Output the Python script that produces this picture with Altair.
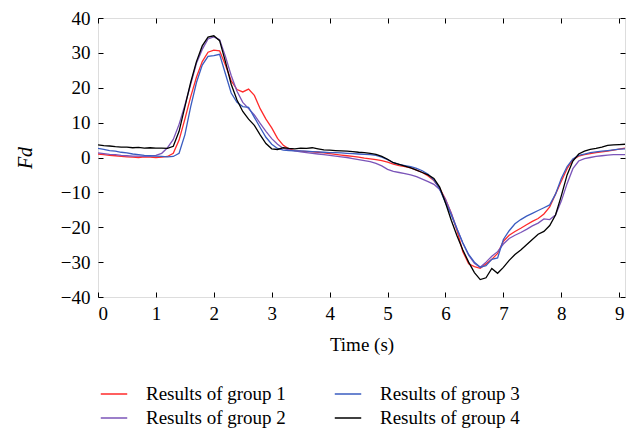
import altair as alt
import pandas as pd

time_s = [0.0, 0.1, 0.2, 0.3, 0.4, 0.5, 0.6, 0.7, 0.8, 0.9,
          1.0, 1.1, 1.2, 1.3, 1.4, 1.5, 1.6, 1.7, 1.8, 1.9,
          2.0, 2.1, 2.2, 2.3, 2.4, 2.5, 2.6, 2.7, 2.8, 2.9,
          3.0, 3.1, 3.2, 3.3, 3.4, 3.5, 3.6, 3.7, 3.8, 3.9,
          4.0, 4.1, 4.2, 4.3, 4.4, 4.5, 4.6, 4.7, 4.8, 4.9,
          5.0, 5.1, 5.2, 5.3, 5.4, 5.5, 5.6, 5.7, 5.8, 5.9,
          6.0, 6.1, 6.2, 6.3, 6.4, 6.5, 6.6, 6.7, 6.8, 6.9,
          7.0, 7.1, 7.2, 7.3, 7.4, 7.5, 7.6, 7.7, 7.8, 7.9,
          8.0, 8.1, 8.2, 8.3, 8.4, 8.5, 8.6, 8.7, 8.8, 8.9,
          9.0, 9.1]

group1 = [1.0, 0.8, 0.6, 0.5, 0.3, 0.2, 0.1, 0.0, 0.2, 0.1,
          0.0, 0.1, 0.3, 1.2, 5.0, 11.0, 17.4, 23.0, 27.5, 30.2,
          30.8, 30.6, 26.5, 22.0, 19.5, 18.8, 19.6, 17.8, 14.0, 11.0,
          8.5, 5.5, 3.5, 2.4, 2.0, 1.8, 1.7, 1.6, 1.5, 1.3,
          1.1, 0.9, 0.7, 0.5, 0.3, 0.1, -0.2, -0.4, -0.6, -0.9,
          -1.3, -1.9, -2.3, -2.6, -3.0, -3.6, -4.3, -5.3, -6.6, -8.8,
          -12.0, -16.0, -21.0, -27.0, -30.5, -31.3, -31.8, -30.5, -29.2, -27.5,
          -24.0, -22.3, -21.2, -20.3, -19.3, -18.3, -17.5, -16.2, -14.2, -10.5,
          -6.8, -3.2, -0.6, 0.4, 0.8, 1.1, 1.4, 1.6, 1.8, 2.1,
          2.4, 2.7]

group2 = [1.3, 1.1, 0.9, 0.8, 0.6, 0.5, 0.4, 0.4, 0.3, 0.4,
          0.6, 1.2, 2.8, 5.2, 9.5, 15.0, 21.0, 27.0, 31.0, 34.0,
          34.6, 33.8, 29.0, 23.5, 19.0, 15.8, 14.0, 12.2, 9.8, 7.5,
          5.4, 3.8, 2.6, 2.2, 1.9, 1.6, 1.4, 1.2, 1.0, 0.8,
          0.6, 0.4, 0.2, 0.0, -0.3, -0.6, -0.9, -1.2, -1.7, -2.4,
          -3.4, -4.0, -4.3, -4.6, -5.0, -5.5, -6.2, -6.9, -7.7, -9.2,
          -12.0, -16.0, -20.5, -24.5, -28.0, -30.3, -31.5, -30.0, -28.3, -27.0,
          -24.8, -23.2, -22.3, -21.5, -20.6, -19.6, -18.8, -17.6, -17.8, -16.5,
          -12.5, -7.5, -3.2, -1.0, -0.3, 0.0, 0.3, 0.5, 0.7, 0.8,
          0.8, 0.8]

group3 = [2.6, 2.3, 2.0, 1.8, 1.5, 1.3, 1.0, 0.8, 0.6, 0.5,
          0.4, 0.3, 0.2, 0.3, 1.2, 6.5, 14.5, 21.5, 26.5, 29.0,
          29.2, 29.6, 24.0, 18.5, 15.8, 14.6, 14.4, 11.5, 8.6, 5.8,
          3.8, 2.6, 2.1, 2.0, 1.9, 1.9, 1.8, 1.7, 1.6, 1.5,
          1.4, 1.4, 1.3, 1.2, 1.1, 1.0, 0.9, 0.8, 0.6, 0.1,
          -0.6, -1.5, -2.0, -2.3, -2.6, -3.1, -3.8, -4.8, -6.5, -9.0,
          -13.0, -16.5, -20.5, -24.5, -27.8, -30.0, -31.5, -31.0, -29.2, -28.8,
          -23.5, -21.0, -19.0, -17.8, -16.8, -16.0, -15.2, -14.4, -13.6, -10.5,
          -6.0, -2.6, -0.4, 0.6, 1.0, 1.4, 1.6, 1.8, 2.0, 2.2,
          2.4, 2.5]

group4 = [3.6, 3.4, 3.3, 3.1, 3.0, 3.0, 2.8, 2.9, 2.7, 2.8,
          2.7, 2.7, 2.6, 3.2, 7.5, 14.5, 21.5, 27.5, 32.0, 34.5,
          34.9, 33.5, 27.5, 21.0, 16.5, 13.2, 11.0, 9.2, 6.5, 4.0,
          2.5, 2.3, 2.8, 2.6, 2.5, 2.7, 2.6, 2.8, 2.5, 2.2,
          2.1, 2.0, 1.9, 1.8, 1.7, 1.5, 1.4, 1.2, 0.9, 0.3,
          -0.5, -1.5, -2.0, -2.5, -3.0, -3.6, -4.3, -5.0, -6.0, -8.5,
          -13.0, -18.0, -22.5, -26.5, -30.0, -33.0, -35.0, -34.5, -31.8, -33.2,
          -31.5, -29.5, -27.8, -26.5, -25.0, -23.5, -22.0, -21.2, -19.5, -16.5,
          -11.0, -5.0, -1.0, 1.0, 1.8, 2.3, 2.6, 3.0, 3.5, 3.6,
          3.7, 3.8]

names = ["Results of group 1", "Results of group 2",
         "Results of group 3", "Results of group 4"]
colors = ["#ff2a2a", "#7b55b9", "#3a5cc0", "#000000"]

x_ticks = [0, 1, 2, 3, 4, 5, 6, 7, 8, 9]
y_ticks = [-40, -30, -20, -10, 0, 10, 20, 30, 40]

rows = []
for k, (name, vals) in enumerate(zip(names, [group1, group2, group3, group4])):
    for t, v in zip(time_s, vals):
        rows.append({"t": t, "F": v, "series": name, "k": k})
df = pd.DataFrame(rows)

W, H = 527, 279
FONT = "Liberation Serif"
FS = 19

xscale = alt.Scale(domain=[0, 9.1], nice=False, zero=False)
yscale = alt.Scale(domain=[-40, 40], nice=False, zero=False)

lines = alt.Chart(df).mark_line(strokeWidth=1.3, clip=True).encode(
    x=alt.X("t:Q", scale=xscale,
            axis=alt.Axis(orient="bottom", values=x_ticks, ticks=False, domain=False,
                          grid=False, title="Time (s)", labelFont=FONT, labelFontSize=FS,
                          titleFont=FONT, titleFontSize=FS, titleFontWeight="normal",
                          labelPadding=7, titlePadding=12, labelColor="black",
                          titleColor="black")),
    y=alt.Y("F:Q", scale=yscale,
            axis=alt.Axis(orient="left", values=y_ticks, ticks=False, domain=False,
                          grid=False, title="Fd", labelFont=FONT, labelFontSize=FS,
                          titleFont=FONT, titleFontSize=20, titleFontWeight="normal",
                          titleFontStyle="italic", labelPadding=8, titlePadding=25,
                          labelColor="black", titleColor="black")),
    color=alt.Color("series:N",
                    scale=alt.Scale(domain=names, range=colors),
                    legend=alt.Legend(orient="none", legendX=2, legendY=362,
                                      columns=2, title=None, symbolType="stroke",
                                      symbolStrokeWidth=1.5, symbolSize=700,
                                      labelFont=FONT, labelFontSize=FS,
                                      labelColor="black", columnPadding=45,
                                      rowPadding=0, labelOffset=18)),
    order=alt.Order("t:Q"),
)

common = dict(labels=False, title=None, domain=False, grid=False, ticks=True,
              tickSize=5, tickColor="black", tickWidth=1)

ticks_a = alt.Chart(df).mark_point(opacity=0).encode(
    x=alt.X("t:Q", scale=xscale,
            axis=alt.Axis(orient="top", offset=-H, values=x_ticks, **common)),
    y=alt.Y("F:Q", scale=yscale,
            axis=alt.Axis(orient="right", offset=-W, values=y_ticks, **common)),
)
ticks_b = alt.Chart(df).mark_point(opacity=0).encode(
    x=alt.X("t:Q", scale=xscale,
            axis=alt.Axis(orient="bottom", offset=-H, values=x_ticks, **common)),
    y=alt.Y("F:Q", scale=yscale,
            axis=alt.Axis(orient="left", offset=-W, values=y_ticks, **common)),
)

chart = alt.layer(lines, ticks_a, ticks_b).resolve_axis(
    x="independent", y="independent"
).properties(
    width=W, height=H,
    autosize=alt.AutoSizeParams(type="none"),
    padding={"left": 90, "top": 10, "right": 9, "bottom": 137},
).configure_view(stroke="black", strokeWidth=1.2).configure(background="white")

chart.save("out.html", embed_options={"renderer": "svg", "actions": False})
